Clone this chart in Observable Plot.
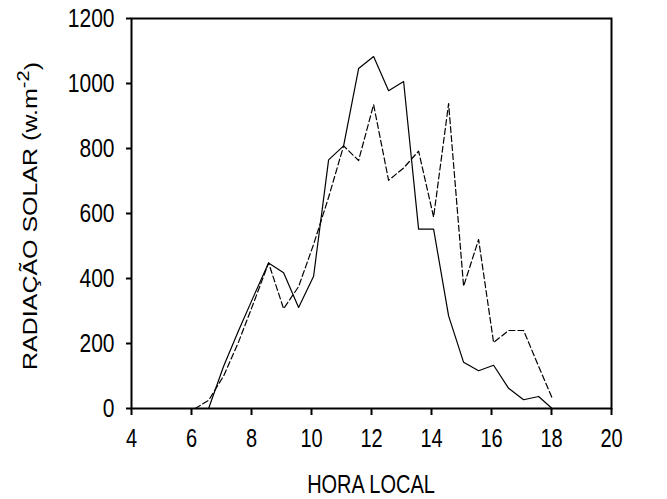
<!DOCTYPE html>
<html>
<head>
<meta charset="utf-8">
<script src="https://cdn.jsdelivr.net/npm/d3@7"></script>
<script src="https://cdn.jsdelivr.net/npm/@observablehq/plot@0.6"></script>
<style>
  html, body { margin: 0; padding: 0; background: #fff; }
</style>
</head>
<body>
<div id="chart"></div>
<script>
// Tick labels
const xTicks = [4, 6, 8, 10, 12, 14, 16, 18, 20];
const yTicks = [0, 200, 400, 600, 800, 1000, 1200];

// Solid series
const solidHours  = [6.57, 7.07, 7.57, 8.07, 8.57, 9.07, 9.57, 10.07, 10.57, 11.07, 11.57, 12.07, 12.57, 13.07, 13.57, 14.07, 14.57, 15.07, 15.57, 16.07, 16.57, 17.07, 17.57, 18.02];
const solidValues = [0, 130, 240, 345, 448, 418, 311, 407, 765, 808, 1046, 1083, 978, 1006, 552, 552, 285, 142, 116, 133, 62, 27, 37, 0];

// Dashed series
const dashedHours  = [6.12, 6.57, 7.07, 7.57, 8.07, 8.57, 9.07, 9.57, 10.07, 10.57, 11.07, 11.57, 12.07, 12.57, 13.07, 13.57, 14.07, 14.57, 15.07, 15.57, 16.07, 16.57, 17.07, 17.57, 18.03];
const dashedValues = [0, 25, 100, 205, 325, 448, 307, 375, 505, 650, 808, 763, 935, 702, 740, 792, 589, 938, 376, 520, 203, 240, 240, 130, 30];

const solid = solidHours.map((h, i) => ({hour: h, value: solidValues[i]}));
const dashed = dashedHours.map((h, i) => ({hour: h, value: dashedValues[i]}));

const W = 667, H = 499;
const mL = 131, mR = 56, mT = 18, mB = 91;
const font = "'Liberation Sans', Arial, sans-serif";
const STRETCH = 1.25;

const svg = Plot.plot({
  width: W,
  height: H,
  marginLeft: mL,
  marginRight: mR,
  marginTop: mT,
  marginBottom: mB,
  style: {fontFamily: font, fontSize: "20px", background: "white", color: "black", overflow: "visible"},
  x: {domain: [4, 20]},
  y: {domain: [0, 1200]},
  marks: [
    Plot.frame({stroke: "black", strokeWidth: 2}),
    Plot.axisX({ticks: xTicks, tickSize: 7, tickPadding: 14, strokeWidth: 2, label: null, fontSize: 20, tickFormat: d => String(d)}),
    Plot.axisY({ticks: yTicks, tickSize: 5, tickPadding: 12, strokeWidth: 2, label: null, fontSize: 21, tickFormat: d => String(d)}),
    Plot.line(dashed, {x: "hour", y: "value", stroke: "black", strokeWidth: 1.2, strokeDasharray: "6,3"}),
    Plot.line(solid, {x: "hour", y: "value", stroke: "black", strokeWidth: 1.2})
  ]
});

const s = d3.select(svg);

// Vertically stretch tick label glyphs (the reference text is tall and narrow)
s.selectAll("g[aria-label$='tick label'] text").each(function() {
  const t = d3.select(this);
  const tr = t.attr("transform");
  if (tr) {
    t.attr("transform", tr + ` scale(1,${STRETCH})`);
  } else {
    const x = +t.attr("x") || 0, y = +t.attr("y") || 0;
    t.attr("transform", `translate(${x},${y}) scale(1,${STRETCH}) translate(${-x},${-y})`);
  }
});

const cx = mL + (W - mL - mR) / 2;
s.append("text")
  .attr("transform", `translate(${cx},493) scale(1,${STRETCH})`)
  .attr("text-anchor", "middle")
  .attr("font-family", font).attr("font-size", 20).attr("fill", "black")
  .text("HORA LOCAL");

const cy = mT + (H - mT - mB) / 2 + 3;
const yl = s.append("text")
  .attr("transform", `translate(37,${cy}) rotate(-90) scale(${STRETCH},1)`)
  .attr("text-anchor", "middle")
  .attr("font-family", font).attr("font-size", 20).attr("fill", "black");
yl.append("tspan").text("RADIAÇÃO SOLAR (w.m");
yl.append("tspan").attr("dy", "-0.5em").attr("font-size", 16).text("-2");
yl.append("tspan").attr("dy", "0.5em").text(")");

document.getElementById("chart").appendChild(svg);
</script>
</body>
</html>
